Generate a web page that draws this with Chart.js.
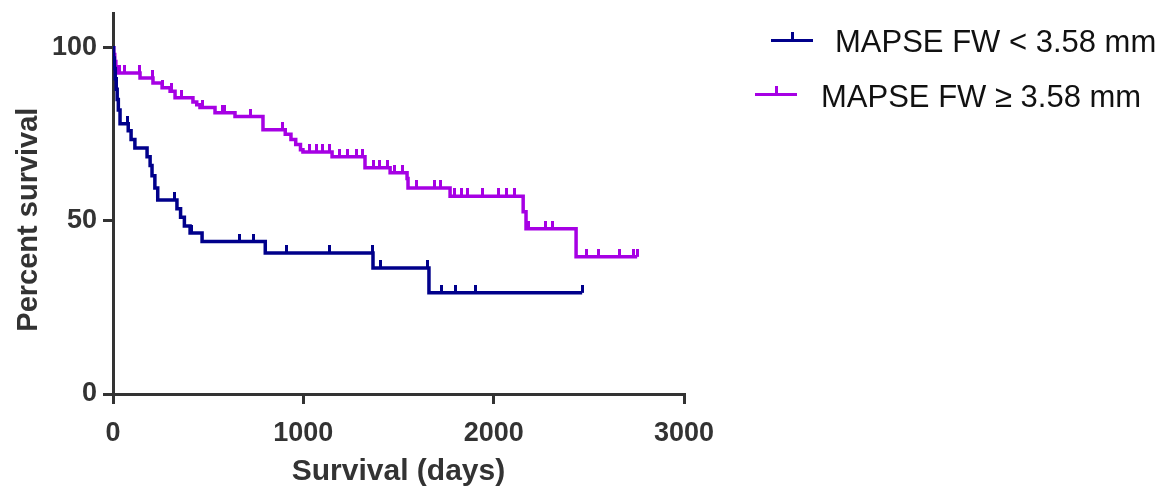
<!DOCTYPE html>
<html>
<head>
<meta charset="utf-8">
<script src="https://cdn.jsdelivr.net/npm/chart.js@4.4.0/dist/chart.umd.min.js"></script>
<style>
  html, body { margin: 0; padding: 0; background: #fff; }
  #wrap { position: relative; width: 1169px; height: 493px; }
  #survivalChart { position: absolute; left: 0; top: 0; }
  .legend-item { position: absolute; font-family: 'Liberation Sans', Arial, sans-serif; font-size: 31px; color: #111; white-space: nowrap; line-height: 1; }
  .legend-item canvas { position: absolute; }
</style>
</head>
<body>
<div id="wrap">
  <canvas id="survivalChart" width="1169" height="493"></canvas>
  <div class="legend-item" id="legLow" style="left:835px; top:26px;">MAPSE FW &lt; 3.58 mm</div>
  <div class="legend-item" id="legHigh" style="left:821px; top:81px;">MAPSE FW ≥ 3.58 mm</div>
</div>
<script>
// Kaplan-Meier steps (days, percent survival)
const lowDays = [0, 3, 7, 12, 17, 22, 28, 37, 80, 95, 115, 179, 195, 205, 220, 235, 336, 355, 375, 405, 468, 800, 1366, 1660];
const lowSurv = [100, 97, 94, 91, 88, 85, 82, 78, 76, 73.5, 71, 68.5, 66, 63, 59.5, 56, 53.5, 51, 48.5, 46.5, 44, 40.7, 36.4, 29.2];
const lowCensored = [75, 325, 415, 662, 736, 914, 1140, 1361, 1403, 1650, 1728, 1797, 1902, 2465];

const highDays = [0, 4, 9, 15, 21, 142, 210, 258, 300, 326, 420, 440, 457, 536, 641, 788, 905, 935, 960, 985, 998, 1151, 1324, 1456, 1545, 1550, 1771, 2155, 2170, 2433];
const highSurv = [100, 98, 96, 94.5, 92.7, 91.2, 89.8, 88.4, 87.4, 85.5, 84.3, 83.5, 82.7, 81.2, 80.1, 76.3, 75, 73.5, 72, 70.5, 69.9, 68.5, 65.3, 63.9, 62.2, 59.5, 57.1, 52.6, 47.7, 39.6];
const highCensored = [32, 58, 137, 205, 260, 305, 360, 470, 573, 588, 720, 888, 1030, 1070, 1100, 1140, 1190, 1230, 1280, 1310, 1370, 1400, 1440, 1480, 1520, 1592, 1690, 1720, 1795, 1830, 1860, 1940, 2023, 2065, 2112, 2185, 2270, 2308, 2490, 2553, 2660, 2733, 2754];

const xTicks = [0, 1000, 2000, 3000];
const yTicks = [0, 50, 100];

const lowColor = '#00008B';
const highColor = '#A600E4';
const axisColor = '#333333';
const fontFamily = "'Liberation Sans', Arial, sans-serif";

function survivalAt(days, surv, t) {
    let s = surv[0];
    for (let i = 0; i < days.length; i++) {
        if (days[i] <= t) s = surv[i];
    }
    return s;
}

function curvePoints(days, surv, censored) {
    const pts = days.map((d, i) => ({ x: d, y: surv[i] }));
    const last = censored[censored.length - 1];
    pts.push({ x: last, y: survivalAt(days, surv, last) });
    return pts;
}

function censorPoints(days, surv, censored) {
    return censored.map(t => ({ x: t, y: survivalAt(days, surv, t) }));
}

// small upward tick used as the censor mark
function tickMark(color) {
    const c = document.createElement('canvas');
    c.width = 3;
    c.height = 16;
    const g = c.getContext('2d');
    g.fillStyle = color;
    g.fillRect(0, 0, 3, 8);
    return c;
}

function legendSymbol(parent, color, left, top) {
    const c = document.createElement('canvas');
    c.width = 42;
    c.height = 12;
    c.style.left = left + 'px';
    c.style.top = top + 'px';
    const g = c.getContext('2d');
    g.fillStyle = color;
    g.fillRect(0, 8, 42, 3);
    g.fillRect(20, 1, 3, 8);
    parent.appendChild(c);
}

legendSymbol(document.getElementById('legLow'), lowColor, -64, 5);
legendSymbol(document.getElementById('legHigh'), highColor, -66, 4);

const ctx = document.getElementById('survivalChart').getContext('2d');
new Chart(ctx, {
    type: 'line',
    data: {
        datasets: [
            {
                data: curvePoints(lowDays, lowSurv, lowCensored),
                borderColor: lowColor,
                borderWidth: 3.5,
                stepped: 'before',
                pointRadius: 0,
                fill: false
            },
            {
                data: curvePoints(highDays, highSurv, highCensored),
                borderColor: highColor,
                borderWidth: 3.5,
                stepped: 'before',
                pointRadius: 0,
                fill: false
            },
            {
                type: 'scatter',
                data: censorPoints(lowDays, lowSurv, lowCensored),
                pointStyle: tickMark(lowColor),
                pointRadius: 8
            },
            {
                type: 'scatter',
                data: censorPoints(highDays, highSurv, highCensored),
                pointStyle: tickMark(highColor),
                pointRadius: 8
            }
        ]
    },
    options: {
        responsive: false,
        animation: false,
        layout: { padding: { top: 13, right: 485, left: 0, bottom: 0 } },
        plugins: {
            legend: { display: false },
            tooltip: { enabled: false }
        },
        scales: {
            x: {
                type: 'linear',
                min: 0,
                max: 3000,
                afterBuildTicks: scale => { scale.ticks = xTicks.map(v => ({ value: v })); },
                afterFit: scale => { scale.height = 99; scale.paddingLeft = 0; scale.paddingRight = 0; },
                border: { display: true, color: axisColor, width: 3 },
                grid: { drawOnChartArea: false, drawTicks: true, tickLength: 10, color: axisColor, lineWidth: 3 },
                ticks: {
                    color: axisColor,
                    padding: 13,
                    maxRotation: 0,
                    callback: v => String(v),
                    font: { family: fontFamily, size: 27, weight: 'bold' }
                },
                title: {
                    display: true,
                    text: 'Survival (days)',
                    color: axisColor,
                    padding: { top: 0, bottom: 3 },
                    font: { family: fontFamily, size: 30, weight: 'bold' }
                }
            },
            y: {
                min: 0,
                max: 110,
                afterBuildTicks: scale => { scale.ticks = yTicks.map(v => ({ value: v })); },
                afterFit: scale => { scale.width = 113; scale.paddingTop = 0; scale.paddingBottom = 0; },
                border: { display: true, color: axisColor, width: 3 },
                grid: { drawOnChartArea: false, drawTicks: true, tickLength: 10, color: axisColor, lineWidth: 3 },
                ticks: {
                    color: axisColor,
                    padding: 6,
                    font: { family: fontFamily, size: 27, weight: 'bold' }
                },
                title: {
                    display: true,
                    // trailing spaces push the rotated title a little lower, as in the figure
                    text: 'Percent survival    ',
                    color: axisColor,
                    padding: { top: 12, bottom: 0 },
                    font: { family: fontFamily, size: 29, weight: 'bold' }
                }
            }
        }
    }
});
</script>
</body>
</html>
